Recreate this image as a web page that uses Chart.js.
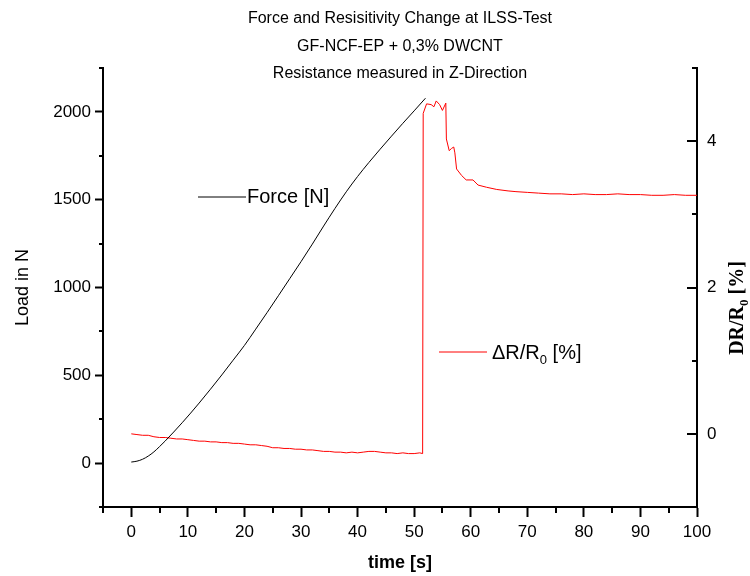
<!DOCTYPE html>
<html>
<head>
<meta charset="utf-8">
<script src="https://cdn.jsdelivr.net/npm/chart.js@4.4.0/dist/chart.umd.min.js"></script>
<style>
  html, body { margin: 0; padding: 0; background: #fff; }
</style>
</head>
<body>
<canvas id="ilssChart" width="750" height="576"></canvas>
<script>
// force curve
const forceTime = [0, 1, 2, 3, 4, 5, 6, 7.5, 9, 10.5, 12, 14, 16, 18, 20, 22, 24, 26, 28, 30, 32, 34, 36, 38, 40, 42, 44, 46, 48, 50, 52];
const forceLoad = [6, 11, 22, 40, 64, 94, 126, 177, 230, 285, 342, 421, 502, 586, 670, 763, 857, 953, 1050, 1147, 1247, 1350, 1450, 1545, 1632, 1712, 1788, 1862, 1935, 2006, 2078];

// resistance change dR/R0 in %
const resTime = [0, 1, 2, 3, 4, 5, 6, 7, 8, 9, 10, 11, 12, 13, 14, 15, 16, 17, 18, 19, 20,
  21, 22, 23, 24, 25, 26, 27, 28, 29, 30, 31, 32, 33, 34, 35, 36, 37, 38, 39, 40,
  41, 42, 43, 44, 45, 46, 47, 48, 49, 50, 51, 51.5, 51.6, 52.2, 53, 53.5, 53.9, 54.5, 55, 55.6,
  55.7, 56.2, 56.6, 57, 57.2, 57.5, 58.4, 59.2, 60.4, 61.3, 62.8, 64.6, 66.6, 68, 70, 72, 74, 76,
  78, 80, 82, 84, 86, 88, 90, 92, 94, 96, 98, 100];
const resChange = [0.00, -0.01, -0.02, -0.02, -0.04, -0.05, -0.05, -0.06, -0.07, -0.07, -0.08,
  -0.09, -0.10, -0.10, -0.11, -0.11, -0.12, -0.12, -0.13, -0.13, -0.14,
  -0.15, -0.15, -0.16, -0.17, -0.19, -0.19, -0.20, -0.20, -0.21, -0.21, -0.22, -0.22, -0.23, -0.24, -0.24,
  -0.25, -0.25, -0.26, -0.25, -0.26, -0.25, -0.24, -0.24, -0.25, -0.26, -0.26, -0.27, -0.26, -0.27, -0.27,
  -0.26, -0.27, 4.38, 4.51, 4.50, 4.47, 4.55, 4.50, 4.42, 4.52,
  4.03, 3.87, 3.90, 3.92, 3.84, 3.62, 3.53, 3.47, 3.47, 3.40, 3.37, 3.34, 3.32, 3.31, 3.30, 3.29, 3.28, 3.28,
  3.27, 3.28, 3.27, 3.27, 3.28, 3.27, 3.27, 3.26, 3.26, 3.27, 3.26, 3.26];

const timeTicks = [0, 10, 20, 30, 40, 50, 60, 70, 80, 90, 100];
const timeMinor = [-5, 5, 15, 25, 35, 45, 55, 65, 75, 85, 95];
const loadTicks = [0, 500, 1000, 1500, 2000];
const loadMinor = [-250, 250, 750, 1250, 1750, 2250];
const resTicks = [0, 2, 4];
const resMinor = [-1, 1, 3, 5];

const titleLines = ['Force and Resisitivity Change at ILSS-Test', 'GF-NCF-EP + 0,3% DWCNT', 'Resistance measured in Z-Direction'];

const sans = "Arial, 'Liberation Sans', sans-serif";
const serif = "'Times New Roman', 'Liberation Serif', serif";

const toPoints = (xs, ys) => xs.map((x, i) => ({ x, y: ys[i] }));
const plainLabel = v => String(v);

// minor ticks, inward right ticks, in-plot legend, right axis title
const axisExtras = {
    id: 'axisExtras',
    afterDraw(chart) {
        const ctx = chart.ctx;
        const { x, yL, yR } = chart.scales;
        const area = chart.chartArea;
        ctx.save();
        ctx.strokeStyle = '#000';
        ctx.lineWidth = 2;
        ctx.beginPath();
        timeMinor.forEach(v => {
            const px = Math.round(x.getPixelForValue(v));
            ctx.moveTo(px, area.bottom); ctx.lineTo(px, area.bottom + 6);
        });
        loadMinor.forEach(v => {
            const py = Math.round(yL.getPixelForValue(v));
            ctx.moveTo(area.left, py); ctx.lineTo(area.left - 4, py);
        });
        resTicks.forEach(v => {
            const py = Math.round(yR.getPixelForValue(v));
            ctx.moveTo(area.right, py); ctx.lineTo(area.right - 10, py);
        });
        resMinor.forEach(v => {
            const py = Math.round(yR.getPixelForValue(v));
            ctx.moveTo(area.right, py); ctx.lineTo(area.right - 5, py);
        });
        ctx.stroke();

        // legend entries
        ctx.lineWidth = 1;
        ctx.strokeStyle = '#000';
        ctx.beginPath(); ctx.moveTo(198, 197); ctx.lineTo(246, 197); ctx.stroke();
        ctx.fillStyle = '#000';
        ctx.textBaseline = 'middle';
        ctx.textAlign = 'left';
        ctx.font = '20px ' + sans;
        ctx.fillText('Force [N]', 247, 197);

        ctx.strokeStyle = '#ff0000';
        ctx.beginPath(); ctx.moveTo(439, 352); ctx.lineTo(487, 352); ctx.stroke();
        let tx = 492;
        ctx.fillText('\u0394R/R', tx, 353);
        tx += ctx.measureText('\u0394R/R').width;
        ctx.font = '13px ' + sans;
        ctx.fillText('0', tx, 360);
        tx += ctx.measureText('0').width;
        ctx.font = '20px ' + sans;
        ctx.fillText(' [%]', tx, 353);

        // right axis title, rotated
        ctx.translate(738, 308);
        ctx.rotate(-Math.PI / 2);
        const big = 'bold 20px ' + serif, small = 'bold 13px ' + serif;
        ctx.font = big; const w1 = ctx.measureText('DR/R').width; const w3 = ctx.measureText(' [%]').width;
        ctx.font = small; const w2 = ctx.measureText('0').width;
        let sx = -(w1 + w2 + w3) / 2;
        ctx.font = big; ctx.fillText('DR/R', sx, 0); sx += w1;
        ctx.font = small; ctx.fillText('0', sx, 7); sx += w2;
        ctx.font = big; ctx.fillText(' [%]', sx, 0);
        ctx.restore();
    }
};

const ctx = document.getElementById('ilssChart').getContext('2d');
const ilssChart = new Chart(ctx, {
    type: 'line',
    data: {
        datasets: [{
            label: 'Force [N]',
            data: toPoints(forceTime, forceLoad),
            yAxisID: 'yL',
            borderColor: '#000000',
            borderWidth: 1,
            pointRadius: 0,
            cubicInterpolationMode: 'monotone'
        }, {
            label: '\u0394R/R0 [%]',
            data: toPoints(resTime, resChange),
            yAxisID: 'yR',
            borderColor: '#ff0000',
            borderWidth: 1,
            pointRadius: 0,
            tension: 0
        }]
    },
    options: {
        responsive: false,
        animation: false,
        layout: { padding: 0 },
        plugins: {
            legend: { display: false },
            tooltip: { enabled: false },
            title: {
                display: true,
                fullSize: false,
                text: titleLines,
                color: '#000',
                font: { family: sans, size: 16, weight: 'normal', lineHeight: '27.5px' },
                padding: { top: 5, bottom: -19.5 }
            }
        },
        scales: {
            x: {
                type: 'linear',
                min: -5,
                max: 100,
                afterBuildTicks: s => { s.ticks = timeTicks.map(v => ({ value: v })); },
                afterFit: s => { s.height = 69; },
                grid: { drawOnChartArea: false, tickLength: 10, tickWidth: 2, tickColor: '#000' },
                border: { color: '#000', width: 2 },
                ticks: { color: '#000', font: { family: sans, size: 17 }, padding: 5, maxRotation: 0, autoSkip: false, callback: plainLabel },
                title: { display: true, text: 'time [s]', color: '#000', font: { family: sans, size: 18, weight: 'bold' }, padding: 2 }
            },
            yL: {
                type: 'linear',
                position: 'left',
                min: -250,
                max: 2250,
                afterBuildTicks: s => { s.ticks = loadTicks.map(v => ({ value: v })); },
                afterFit: s => { s.width = 103; },
                grid: { drawOnChartArea: false, tickLength: 8, tickWidth: 2, tickColor: '#000' },
                border: { color: '#000', width: 2 },
                ticks: { color: '#000', font: { family: sans, size: 17 }, padding: 4, callback: plainLabel },
                title: { display: true, text: 'Load in N', color: '#000', font: { family: sans, size: 18 }, padding: 12 }
            },
            yR: {
                type: 'linear',
                position: 'right',
                min: -1,
                max: 5,
                afterBuildTicks: s => { s.ticks = resTicks.map(v => ({ value: v })); },
                afterFit: s => { s.width = 53; },
                grid: { drawOnChartArea: false, drawTicks: false },
                border: { color: '#000', width: 2 },
                ticks: { color: '#000', font: { family: sans, size: 17 }, padding: 10, callback: plainLabel }
            }
        }
    },
    plugins: [axisExtras]
});
</script>
</body>
</html>
